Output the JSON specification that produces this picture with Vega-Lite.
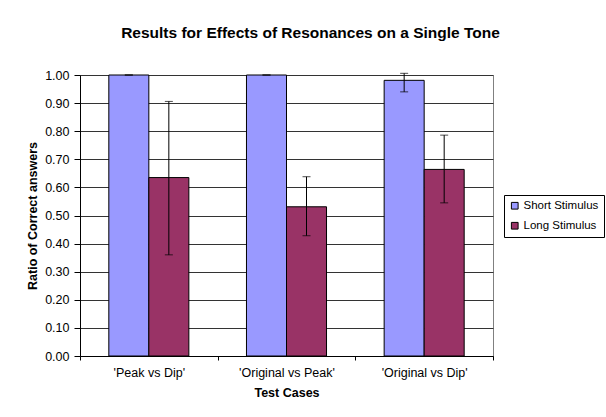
{
  "$schema": "https://vega.github.io/schema/vega-lite/v6.json",
  "width": 413,
  "height": 281,
  "autosize": {"type": "none"},
  "padding": {"left": 80, "top": 75, "right": 113, "bottom": 61},
  "background": "white",
  "config": {
    "font": "Liberation Sans",
    "view": {"stroke": "#808080", "strokeWidth": 1},
    "axisY": {
      "titleFontSize": 12.5,
      "titleFontWeight": "bold",
      "titleColor": "black",
      "titlePadding": 5,
      "labelOverlap": false,
      "labelFontSize": 12.5,
      "labelColor": "black",
      "labelPadding": 5,
      "domainColor": "black",
      "tickColor": "black",
      "tickSize": 6,
      "grid": true,
      "gridColor": "#333333",
      "gridWidth": 1
    }
  },
  "title": {
    "text": "Results for Effects of Resonances on a Single Tone",
    "fontSize": 15.5,
    "fontWeight": "bold",
    "font": "Liberation Sans",
    "color": "black",
    "anchor": "middle",
    "frame": "group",
    "dx": 24,
    "offset": 28
  },
  "data": {
    "values": [
      {"case": "'Peak vs Dip'", "stimulus": "Short Stimulus", "value": 1.0, "lo": 1.0, "hi": 1.0},
      {"case": "'Peak vs Dip'", "stimulus": "Long Stimulus", "value": 0.635, "lo": 0.36, "hi": 0.906},
      {"case": "'Original vs Peak'", "stimulus": "Short Stimulus", "value": 1.0, "lo": 1.0, "hi": 1.0},
      {"case": "'Original vs Peak'", "stimulus": "Long Stimulus", "value": 0.531, "lo": 0.428, "hi": 0.638},
      {"case": "'Original vs Dip'", "stimulus": "Short Stimulus", "value": 0.981, "lo": 0.94, "hi": 1.006},
      {"case": "'Original vs Dip'", "stimulus": "Long Stimulus", "value": 0.664, "lo": 0.545, "hi": 0.786}
    ]
  },
  "encoding": {
    "x": {
      "field": "case",
      "type": "nominal",
      "sort": ["'Peak vs Dip'", "'Original vs Peak'", "'Original vs Dip'"],
      "scale": {"paddingInner": 0, "paddingOuter": 0},
      "axis": {
        "title": "Test Cases",
        "titleFontSize": 12.5,
        "titleFontWeight": "bold",
        "titleColor": "black",
        "titlePadding": 8,
        "labelAngle": 0,
        "labelFontSize": 12.5,
        "labelColor": "black",
        "labelPadding": 6,
        "domainColor": "black",
        "tickColor": "black",
        "tickSize": 4,
        "tickBand": "extent"
      }
    },
    "xOffset": {
      "field": "stimulus",
      "type": "nominal",
      "sort": ["Short Stimulus", "Long Stimulus"],
      "scale": {"paddingInner": 0, "paddingOuter": 0.72}
    }
  },
  "layer": [
    {
      "mark": {"type": "bar", "stroke": "black", "strokeWidth": 1},
      "encoding": {
        "y": {
          "field": "value",
          "type": "quantitative",
          "scale": {"domain": [0, 1], "nice": false},
          "axis": {"title": "Ratio of Correct answers", "values": [0, 0.1, 0.2, 0.3, 0.4, 0.5, 0.6, 0.7, 0.8, 0.9, 1.0], "format": ".2f"}
        },
        "color": {
          "field": "stimulus",
          "type": "nominal",
          "scale": {
            "domain": ["Short Stimulus", "Long Stimulus"],
            "range": ["#9999FF", "#993366"]
          },
          "legend": {
            "title": null,
            "orient": "none",
            "legendX": 424,
            "legendY": 120,
            "strokeColor": "black",
            "padding": 5,
            "symbolType": "square",
            "symbolSize": 45,
            "symbolStrokeColor": "black",
            "symbolStrokeWidth": 1,
            "labelFontSize": 11.5,
            "labelColor": "black",
            "rowPadding": 7,
            "labelOffset": 3
          }
        }
      }
    },
    {
      "mark": {"type": "rule", "color": "black", "strokeWidth": 1},
      "encoding": {
        "y": {"field": "lo", "type": "quantitative", "axis": {"title": "Ratio of Correct answers", "values": [0, 0.1, 0.2, 0.3, 0.4, 0.5, 0.6, 0.7, 0.8, 0.9, 1.0], "format": ".2f"}},
        "y2": {"field": "hi"}
      }
    },
    {
      "mark": {"type": "tick", "color": "black", "size": 8, "thickness": 1, "orient": "horizontal"},
      "encoding": {
        "y": {"field": "lo", "type": "quantitative", "axis": {"title": "Ratio of Correct answers", "values": [0, 0.1, 0.2, 0.3, 0.4, 0.5, 0.6, 0.7, 0.8, 0.9, 1.0], "format": ".2f"}}
      }
    },
    {
      "mark": {"type": "tick", "color": "black", "size": 8, "thickness": 1, "orient": "horizontal"},
      "encoding": {
        "y": {"field": "hi", "type": "quantitative", "axis": {"title": "Ratio of Correct answers", "values": [0, 0.1, 0.2, 0.3, 0.4, 0.5, 0.6, 0.7, 0.8, 0.9, 1.0], "format": ".2f"}}
      }
    }
  ]
}
